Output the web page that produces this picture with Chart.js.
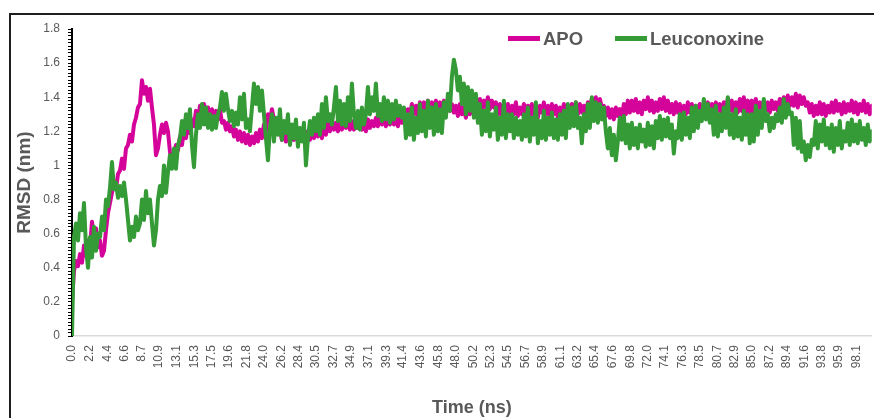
<!DOCTYPE html>
<html>
<head>
<meta charset="utf-8">
<script src="https://cdn.jsdelivr.net/npm/chart.js@4/dist/chart.umd.min.js"></script>
<style>
  html, body { margin: 0; padding: 0; background: #fff; overflow: hidden; width: 874px; height: 418px; }
  #wrap { position: absolute; left: 0; top: 0; width: 880px; height: 418px; }
  #frame { position: absolute; left: 9px; top: 13px; width: 900px; height: 500px; border: 2px solid #1e1e1e; pointer-events: none; }
  .key-line { position: absolute; top: 35.5px; width: 32px; height: 5px; }
  .key-text { position: absolute; top: 28px; line-height: 21px; font: bold 18.5px "Liberation Sans", Arial, sans-serif; color: #595959; white-space: nowrap; }
</style>
</head>
<body>
<div id="wrap"><canvas id="chart" width="880" height="418"></canvas></div>
<div id="frame"></div>
<div class="key-line" id="key-apo" style="left:508px"></div>
<div class="key-text" id="txt-apo" style="left:543px"></div>
<div class="key-line" id="key-leu" style="left:615px"></div>
<div class="key-text" id="txt-leu" style="left:650px"></div>
<script>
// Sampling interval of the trajectory (ns)
const TIME_STEP = 0.25;

const SERIES_NAMES = ['APO', 'Leuconoxine'];
const SERIES_COLORS = ['#d4049a', '#349b36'];

// Time labels along the x axis (ns)
const X_TICK_LABELS = [0.0, 2.2, 4.4, 6.6, 8.7, 10.9, 13.1, 15.3, 17.5, 19.6, 21.8, 24.0, 26.2, 28.4, 30.5,
  32.7, 34.9, 37.1, 39.3, 41.4, 43.6, 45.8, 48.0, 50.2, 52.3, 54.5, 56.7, 58.9, 61.1, 63.2, 65.4, 67.6,
  69.8, 72.0, 74.1, 76.3, 78.5, 80.7, 82.9, 85.0, 87.2, 89.4, 91.6, 93.8, 95.9, 98.1];

// Labelled y ticks (nm) and minor tick spacing
const Y_TICK_LABELS = [0, 0.2, 0.4, 0.6, 0.8, 1, 1.2, 1.4, 1.6, 1.8];
const Y_MINOR_STEP = 0.02;

// RMSD (nm), one value every TIME_STEP from 0 to 100 ns (each row = 5 ns)
const APO = [
  0.20,0.38,0.44,0.41,0.48,0.43,0.53,0.47,0.56,0.52,0.67,0.58,0.63,0.52,0.56,0.47,0.50,0.62,0.72,0.78,
  0.84,0.90,0.86,0.95,0.97,1.04,0.98,1.10,1.12,1.18,1.14,1.24,1.28,1.34,1.36,1.50,1.42,1.46,1.38,1.45,
  1.34,1.24,1.06,1.10,1.18,1.24,1.19,1.25,1.20,1.08,1.00,1.06,1.12,1.09,1.17,1.12,1.20,1.16,1.25,1.19,
  1.27,1.23,1.32,1.26,1.35,1.29,1.36,1.31,1.34,1.28,1.33,1.26,1.32,1.27,1.33,1.25,1.26,1.21,1.25,1.20,
  1.23,1.17,1.21,1.15,1.20,1.14,1.19,1.13,1.18,1.12,1.17,1.13,1.19,1.14,1.21,1.16,1.24,1.20,1.30,1.26,
  1.33,1.27,1.24,1.19,1.21,1.15,1.20,1.14,1.19,1.13,1.20,1.15,1.21,1.14,1.19,1.15,1.21,1.16,1.20,1.15,
  1.21,1.16,1.22,1.17,1.23,1.16,1.22,1.18,1.25,1.20,1.26,1.21,1.25,1.20,1.27,1.21,1.26,1.22,1.27,1.21,
  1.26,1.21,1.27,1.22,1.26,1.21,1.25,1.20,1.27,1.22,1.26,1.23,1.28,1.23,1.29,1.24,1.28,1.23,1.29,1.24,
  1.28,1.24,1.29,1.23,1.28,1.25,1.30,1.27,1.33,1.29,1.36,1.30,1.35,1.29,1.37,1.31,1.37,1.32,1.38,1.31,
  1.37,1.32,1.38,1.32,1.37,1.31,1.38,1.33,1.37,1.32,1.36,1.31,1.35,1.29,1.36,1.30,1.34,1.28,1.35,1.30,
  1.37,1.33,1.40,1.34,1.39,1.33,1.38,1.34,1.40,1.33,1.38,1.34,1.37,1.30,1.36,1.29,1.35,1.30,1.36,1.28,
  1.35,1.30,1.37,1.29,1.34,1.30,1.36,1.31,1.35,1.29,1.36,1.30,1.34,1.28,1.35,1.31,1.37,1.30,1.35,1.29,
  1.36,1.30,1.35,1.28,1.34,1.30,1.36,1.31,1.35,1.29,1.36,1.31,1.37,1.30,1.36,1.31,1.35,1.30,1.37,1.33,
  1.39,1.34,1.40,1.33,1.39,1.34,1.35,1.29,1.34,1.28,1.33,1.27,1.34,1.29,1.33,1.28,1.36,1.30,1.38,1.31,
  1.38,1.32,1.39,1.31,1.37,1.30,1.38,1.33,1.40,1.32,1.38,1.31,1.37,1.32,1.39,1.33,1.40,1.32,1.38,1.31,
  1.36,1.30,1.37,1.31,1.36,1.29,1.35,1.30,1.37,1.31,1.36,1.30,1.35,1.29,1.36,1.30,1.35,1.31,1.37,1.30,
  1.36,1.31,1.37,1.32,1.36,1.30,1.37,1.31,1.39,1.32,1.38,1.30,1.37,1.31,1.39,1.32,1.40,1.31,1.38,1.30,
  1.38,1.31,1.39,1.32,1.37,1.31,1.38,1.32,1.37,1.31,1.38,1.33,1.37,1.32,1.39,1.33,1.40,1.34,1.41,1.35,
  1.40,1.35,1.42,1.34,1.41,1.36,1.40,1.35,1.37,1.31,1.36,1.29,1.35,1.30,1.37,1.30,1.36,1.29,1.35,1.31,
  1.37,1.31,1.38,1.32,1.36,1.30,1.37,1.31,1.36,1.32,1.38,1.31,1.37,1.30,1.36,1.32,1.38,1.31,1.36,1.30,
  1.35
];

const LEUCONOXINE = [
  0.00,0.58,0.66,0.56,0.72,0.62,0.78,0.52,0.40,0.58,0.46,0.64,0.50,0.60,0.58,0.70,0.62,0.80,0.76,0.87,
  1.02,0.86,0.90,0.81,0.88,0.82,0.90,0.80,0.68,0.56,0.64,0.58,0.70,0.62,0.66,0.80,0.68,0.85,0.72,0.80,
  0.66,0.53,0.62,0.80,0.88,0.82,1.00,0.84,0.96,1.06,0.98,1.10,0.98,1.12,1.16,1.26,1.18,1.30,1.22,1.33,
  1.12,0.99,1.18,1.30,1.22,1.36,1.24,1.34,1.22,1.30,1.21,1.29,1.22,1.30,1.34,1.43,1.32,1.42,1.33,1.26,
  1.32,1.23,1.31,1.24,1.40,1.27,1.42,1.22,1.27,1.20,1.34,1.48,1.36,1.46,1.32,1.44,1.30,1.16,1.03,1.22,
  1.30,1.14,1.28,1.18,1.33,1.15,1.26,1.19,1.30,1.12,1.24,1.16,1.27,1.11,1.22,1.14,1.25,1.00,1.16,1.26,
  1.18,1.28,1.20,1.30,1.18,1.36,1.22,1.40,1.26,1.30,1.24,1.34,1.46,1.26,1.38,1.24,1.36,1.23,1.40,1.26,
  1.48,1.30,1.22,1.32,1.21,1.34,1.24,1.30,1.46,1.30,1.40,1.32,1.48,1.29,1.36,1.26,1.40,1.27,1.38,1.25,
  1.36,1.27,1.38,1.29,1.35,1.28,1.34,1.16,1.30,1.18,1.34,1.15,1.28,1.19,1.36,1.20,1.32,1.17,1.38,1.22,
  1.34,1.18,1.36,1.20,1.33,1.19,1.37,1.28,1.42,1.32,1.52,1.62,1.56,1.44,1.52,1.36,1.48,1.30,1.46,1.32,
  1.44,1.28,1.42,1.25,1.36,1.18,1.32,1.20,1.37,1.17,1.30,1.21,1.34,1.15,1.28,1.18,1.38,1.16,1.30,1.20,
  1.30,1.16,1.28,1.18,1.26,1.15,1.30,1.17,1.34,1.14,1.28,1.18,1.37,1.13,1.26,1.16,1.32,1.15,1.28,1.18,
  1.31,1.16,1.27,1.15,1.30,1.18,1.32,1.16,1.36,1.22,1.34,1.23,1.37,1.22,1.28,1.13,1.30,1.20,1.36,1.22,
  1.40,1.26,1.37,1.25,1.36,1.27,1.34,1.20,1.10,1.22,1.06,1.18,1.03,1.14,1.28,1.15,1.29,1.13,1.24,1.10,
  1.25,1.12,1.22,1.10,1.24,1.14,1.21,1.11,1.25,1.12,1.23,1.10,1.26,1.16,1.29,1.15,1.27,1.17,1.28,1.16,
  1.24,1.07,1.20,1.16,1.30,1.15,1.31,1.18,1.28,1.16,1.34,1.20,1.35,1.22,1.32,1.26,1.39,1.27,1.36,1.25,
  1.33,1.18,1.35,1.17,1.30,1.20,1.34,1.22,1.40,1.18,1.30,1.16,1.33,1.17,1.28,1.15,1.32,1.18,1.30,1.13,
  1.30,1.14,1.35,1.18,1.32,1.22,1.39,1.26,1.30,1.20,1.28,1.22,1.30,1.26,1.34,1.25,1.39,1.28,1.36,1.30,
  1.31,1.12,1.28,1.10,1.26,1.08,1.14,1.03,1.12,1.05,1.15,1.12,1.26,1.10,1.24,1.14,1.27,1.12,1.22,1.10,
  1.24,1.08,1.22,1.12,1.26,1.10,1.20,1.14,1.25,1.12,1.27,1.14,1.24,1.13,1.26,1.15,1.22,1.12,1.24,1.14,
  1.20
];

const TEXT_COLOR = '#595959';
const FONT_FAMILY = '"Liberation Sans", Arial, sans-serif';

// Legend in the upper right of the plot
document.getElementById('key-apo').style.background = SERIES_COLORS[0];
document.getElementById('key-leu').style.background = SERIES_COLORS[1];
document.getElementById('txt-apo').textContent = SERIES_NAMES[0];
document.getElementById('txt-leu').textContent = SERIES_NAMES[1];

const toPoints = arr => arr.map((v, i) => ({ x: i * TIME_STEP, y: v }));

const lineStyle = color => ({
  borderColor: color,
  backgroundColor: color,
  borderWidth: 4,
  pointRadius: 0,
  tension: 0,
  fill: false,
  borderJoinStyle: 'round',
  borderCapStyle: 'round'
});

new Chart(document.getElementById('chart'), {
  type: 'line',
  data: {
    datasets: [
      Object.assign({ label: SERIES_NAMES[0], data: toPoints(APO), order: 1 }, lineStyle(SERIES_COLORS[0])),
      Object.assign({ label: SERIES_NAMES[1], data: toPoints(LEUCONOXINE), order: 0 }, lineStyle(SERIES_COLORS[1]))
    ]
  },
  options: {
    responsive: false,
    animation: false,
    devicePixelRatio: 1,
    layout: { padding: { top: 29, right: 2, left: 0, bottom: 0 } },
    plugins: { legend: { display: false }, tooltip: { enabled: false } },
    scales: {
      x: {
        type: 'linear',
        min: 0,
        max: 100,
        afterBuildTicks: scale => { scale.ticks = X_TICK_LABELS.map(v => ({ value: v })); },
        afterFit: scale => { scale.height = 82; },
        ticks: {
          autoSkip: false,
          minRotation: 90,
          maxRotation: 90,
          padding: 9,
          color: TEXT_COLOR,
          font: { family: FONT_FAMILY, size: 12 },
          callback: v => Number(v).toFixed(1)
        },
        grid: { display: false, drawTicks: false },
        border: { display: true, color: '#d9d9d9', width: 1.5 },
        title: {
          display: true,
          text: 'Time (ns)',
          color: TEXT_COLOR,
          font: { family: FONT_FAMILY, size: 18, weight: 'bold' },
          padding: { top: 0, bottom: -1 }
        }
      },
      y: {
        type: 'linear',
        min: 0,
        max: 1.8,
        afterBuildTicks: scale => {
          const ticks = [];
          const n = Math.round(1.8 / Y_MINOR_STEP);
          for (let i = 0; i <= n; i++) ticks.push({ value: i * Y_MINOR_STEP });
          scale.ticks = ticks;
        },
        afterFit: scale => { scale.width = 72; },
        ticks: {
          autoSkip: false,
          padding: 8,
          color: TEXT_COLOR,
          font: { family: FONT_FAMILY, size: 12 },
          callback: v => {
            const hit = Y_TICK_LABELS.find(t => Math.abs(t - v) < 1e-6);
            return hit === undefined ? '' : String(hit);
          }
        },
        grid: { drawOnChartArea: false, drawTicks: true, tickLength: 4, color: '#000', lineWidth: 1 },
        border: { display: true, color: '#000', width: 2 },
        title: {
          display: true,
          text: 'RMSD (nm)',
          color: TEXT_COLOR,
          font: { family: FONT_FAMILY, size: 19, weight: 'bold' },
          padding: { top: 13, bottom: 0 }
        }
      }
    }
  }
});
</script>
</body>
</html>
